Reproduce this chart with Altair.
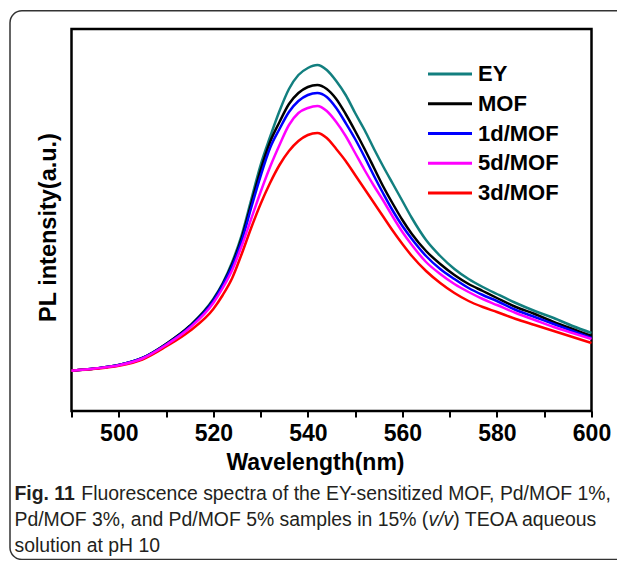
import altair as alt
import pandas as pd

# ---------------- data ----------------
wavelength = [490, 495, 500, 505, 510, 515, 520, 522, 524, 526, 528, 530, 532, 534, 536,
              538, 540, 542, 544, 546, 548, 550, 552, 554, 556, 558, 560, 562, 565, 568,
              571, 574, 577, 580, 584, 588, 592, 596, 600]
ey = [40.3, 42.5, 46, 53, 67, 85, 112, 128, 149, 176, 211, 246, 274, 300, 322,
      336, 343, 346, 341, 330, 316, 298, 281, 262, 244, 227, 210, 193, 171, 155,
      142, 132, 124, 117, 108, 100, 93, 85, 78]
mof = [40.3, 42.5, 46, 53, 67, 85, 111, 127, 147, 173, 207, 241, 269, 289, 307,
       318, 324, 326, 322, 312, 297, 280, 262, 243, 224, 207, 191, 177, 160, 147,
       136, 127, 120, 113, 104, 97, 89, 82, 75]
d1_mof = [40.3, 42.5, 46, 53, 66.5, 84, 110, 126, 145, 170, 203, 235, 263, 282, 299,
          310, 316, 318, 314, 303, 288, 272, 254, 235, 217, 200, 185, 172, 155, 142,
          132, 123, 116, 110, 101, 94, 87, 80, 73]
d5_mof = [40.3, 42.5, 45.7, 52.5, 66, 83, 108, 123, 141, 165, 192, 219, 244, 266, 286,
          298, 303, 305, 300, 289, 275, 258, 241, 225, 210, 194, 179, 166, 149, 137,
          127, 119, 112, 106, 98, 91, 84, 78, 72]
d3_mof = [40.3, 42.2, 45.2, 51.5, 64.5, 80, 102, 116, 133, 157, 183, 207, 228, 246, 260,
          270, 276, 278, 273, 262, 250, 236, 222, 208, 194, 180, 167, 155, 140, 128,
          118, 110, 104, 99, 92, 86, 80, 74, 68]

series_names = ["EY", "MOF", "1d/MOF", "5d/MOF", "3d/MOF"]
series_colors = ["#127f7f", "#000000", "#0000ff", "#ff00ff", "#ff0000"]
draw_order = ["EY", "MOF", "1d/MOF", "3d/MOF", "5d/MOF"]
x_ticks = [490, 500, 510, 520, 530, 540, 550, 560, 570, 580, 590, 600]
x_title = "Wavelength(nm)"
y_title = "PL intensity(a.u.)"

cap_bold = "Fig. 11"
cap_l1 = "Fluorescence spectra of the EY-sensitized MOF, Pd/MOF 1%,"
cap_l2a = "Pd/MOF 3%, and Pd/MOF 5% samples in 15% ("
cap_l2b = "v/v"
cap_l2c = ") TEOA aqueous"
cap_l3 = "solution at pH 10"

# ---------------- layout helpers ----------------
W, H = 520, 382
FONT = "Liberation Sans"
CAP_FONT = "Liberation Sans"
CAP_SIZE = 19.4

AR = {' ': 278, '%': 889, '(': 333, ')': 333, ',': 278, '-': 333, '.': 278, '/': 278,
      'A': 667, 'E': 667, 'F': 611, 'M': 833, 'O': 778, 'P': 667, 'T': 611, 'Y': 667,
      'a': 556, 'c': 500, 'd': 556, 'e': 556, 'f': 278, 'h': 556, 'i': 222, 'l': 222,
      'm': 833, 'n': 556, 'o': 556, 'p': 556, 'q': 556, 'r': 333, 's': 500, 't': 278,
      'u': 556, 'v': 500, 'z': 500, 'H': 722}
ARB = {' ': 278, '.': 278, 'F': 611, 'i': 278, 'g': 611}


def tw(s, size, bold=False):
    tbl = ARB if bold else AR
    return sum(tbl.get(c, 556) for c in s) / 1000.0 * size


rows = []
for name, vals in zip(series_names, [ey, mof, d1_mof, d5_mof, d3_mof]):
    for w, v in zip(wavelength, vals):
        rows.append({"wl": w, "pl": v, "series": name})
df = pd.DataFrame(rows)

color_scale = alt.Scale(domain=series_names, range=series_colors)

x_enc = alt.X(
    "wl:Q",
    scale=alt.Scale(domain=[490, 600], nice=False, zero=False),
    axis=alt.Axis(
        values=x_ticks,
        labelExpr="datum.value % 20 === 0 ? datum.label : ''",
        title=x_title, grid=False, domain=False,
        tickSize=6, tickWidth=2, tickColor="black",
        labelFont=FONT, labelFontSize=23, labelFontWeight="bold", labelColor="black",
        labelPadding=5, labelOverlap=False, labelFlush=False,
        titleFont=FONT, titleFontSize=23, titleFontWeight="bold", titleColor="black",
        titleX=243.5, titleY=58, titleBaseline="alphabetic",
    ),
)
y_enc = alt.Y(
    "pl:Q",
    scale=alt.Scale(domain=[0, 382], nice=False, zero=False),
    axis=alt.Axis(
        title=y_title, labels=False, ticks=False, domain=False, grid=False,
        titleFont=FONT, titleFontSize=23.5, titleFontWeight="bold", titleColor="black",
        titleX=-16.5, titleY=198, titleBaseline="alphabetic", titleAngle=270,
    ),
)

line_layers = []
for name in draw_order:
    line_layers.append(
        alt.Chart(df)
        .transform_filter(alt.datum.series == name)
        .mark_line(strokeWidth=2.5, interpolate="monotone")
        .encode(x=x_enc, y=y_enc,
                color=alt.Color("series:N", scale=color_scale, legend=None))
    )
lines = alt.layer(*line_layers)

# ---------------- legend ----------------
leg_df = pd.DataFrame({"series": series_names})
leg_y = alt.Y("series:N", sort=series_names,
              scale=alt.Scale(type="point", domain=series_names, range=[45, 164], padding=0),
              axis=None)
leg_rule = alt.Chart(leg_df).mark_rule(strokeWidth=3).encode(
    x=alt.value(356.5), x2=alt.value(400.5), y=leg_y,
    color=alt.Color("series:N", scale=color_scale, legend=None))
leg_text = alt.Chart(leg_df).mark_text(
    align="left", baseline="middle", font=FONT, fontSize=22, fontWeight="bold", color="black"
).encode(x=alt.value(406.5), y=leg_y, text="series:N")
legend = alt.layer(leg_rule, leg_text)

# ---------------- outer frame and caption ----------------
one = pd.DataFrame({"k": [0]})
border = alt.Chart(one).mark_rect(
    fill="white", fillOpacity=0, stroke="#333333", strokeWidth=1.5, cornerRadius=12
).encode(x=alt.value(-61.5), x2=alt.value(600), y=alt.value(-18.3), y2=alt.value(530.5))

X0 = -57
Y1, Y2, Y3 = 471, 497, 523
CAP_COLOR = "#231f20"


def cap(text, x, y, weight="normal", style="normal"):
    return alt.Chart(pd.DataFrame({"t": [text]})).mark_text(
        align="left", baseline="alphabetic", font=CAP_FONT, fontSize=CAP_SIZE,
        fontWeight=weight, fontStyle=style, color=CAP_COLOR
    ).encode(x=alt.value(x), y=alt.value(y), text="t:N")


xb = X0 + tw(cap_bold + " ", CAP_SIZE, bold=True)
x2b = X0 + tw(cap_l2a, CAP_SIZE)
x2c = x2b + tw(cap_l2b, CAP_SIZE)
captions = [
    cap(cap_bold, X0, Y1, weight="bold"),
    cap(cap_l1, xb, Y1),
    cap(cap_l2a, X0, Y2),
    cap(cap_l2b, x2b, Y2, style="italic"),
    cap(cap_l2c, x2c, Y2),
    cap(cap_l3, X0, Y3),
]

chart = (
    alt.layer(border, lines, legend, *captions)
    .resolve_scale(y="independent")
    .properties(
        width=W, height=H,
        autosize=alt.AutoSizeParams(type="none"),
        padding={"left": 63.5, "top": 21, "right": 25, "bottom": 149},
        background="white",
    )
    .configure_view(stroke="black", strokeWidth=2.5)
)

chart.save("out.html", embed_options={"renderer": "svg", "actions": False})
